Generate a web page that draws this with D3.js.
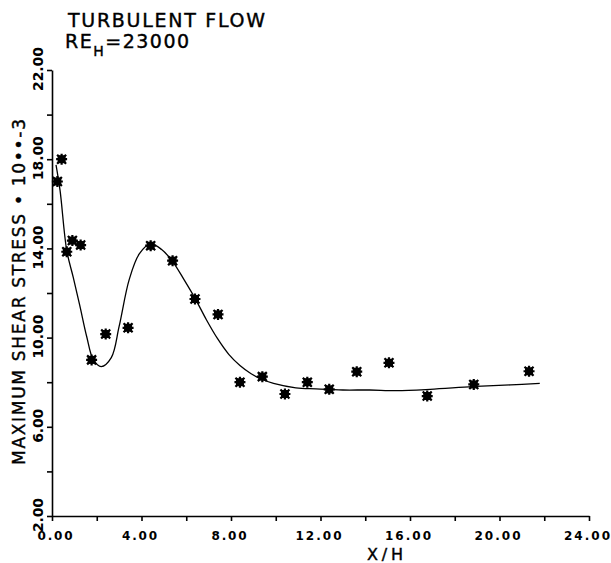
<!DOCTYPE html>
<html>
<head>
<meta charset="utf-8">
<script src="https://cdn.jsdelivr.net/npm/d3@7"></script>
<style>
  body { margin: 0; background: #fff; }
  svg text { font-family: "DejaVu Sans", sans-serif; fill: #000; }
</style>
</head>
<body>
<svg id="chart"></svg>
<script>
// measured points, x/h and max shear stress (x 1e-3)
var xh     = [0.24, 0.43, 0.66, 0.91, 1.28, 1.77, 2.40, 3.40, 4.41, 5.39, 6.39, 7.42,
              8.40, 9.40, 10.41, 11.41, 12.39, 13.62, 15.06, 16.77, 18.85, 21.32];
var stress = [17.0, 18.0, 13.85, 14.35, 14.15, 9.0, 10.16, 10.44, 14.12, 13.45, 11.73, 11.04,
              8.0, 8.25, 7.47, 8.0, 7.68, 8.47, 8.87, 7.38, 7.9, 8.49];

// fitted curve
var fitX = [0.18, 0.36, 0.66, 0.95, 1.25, 1.55, 1.85, 2.2, 2.65, 3.0, 3.45, 3.9, 4.4, 4.9,
            5.4, 5.9, 6.4, 6.9, 7.4, 7.9, 8.4, 8.9, 9.4, 9.9, 10.9, 11.8, 13.0, 14.2, 15.4,
            16.9, 18.8, 20.5, 21.8];
var fitY = [17.75, 16.6, 13.9, 12.7, 11.4, 10.05, 9.0, 8.7, 9.1, 10.5, 12.6, 13.75, 14.2, 13.95,
            13.4, 12.6, 11.75, 10.8, 9.95, 9.25, 8.75, 8.38, 8.12, 7.95, 7.75, 7.7, 7.65, 7.65, 7.62,
            7.68, 7.8, 7.88, 7.95];

var xTicks = [0, 4, 8, 12, 16, 20, 24];
var yTicks = [2, 6, 10, 14, 18, 22];

var width = 611,
    height = 563;

var svg = d3.select('#chart')
  .attr('width', width)
  .attr('height', height);

var x = d3.scaleLinear().domain([0, 24]).range([52, 589]);
var y = d3.scaleLinear().domain([2, 22]).range([516, 70]);

// axes: minor ticks every 2, labels every 4
var xAxis = d3.axisBottom(x)
  .tickValues(d3.range(0, 25, 2))
  .tickSize(5)
  .tickSizeOuter(0)
  .tickFormat('');
var yAxis = d3.axisLeft(y)
  .tickValues(d3.range(2, 23, 2))
  .tickSize(5)
  .tickSizeOuter(0)
  .tickFormat('');

svg.append('g')
  .attr('transform', 'translate(0,516)')
  .call(xAxis)
  .call(function (g) {
    g.selectAll('line, path').attr('stroke', '#000').attr('stroke-width', 1.6);
  });

svg.append('g')
  .attr('transform', 'translate(52,0)')
  .call(yAxis)
  .call(function (g) {
    g.selectAll('line, path').attr('stroke', '#000').attr('stroke-width', 1.6);
  });

// tick labels
svg.selectAll('.xlab')
  .data(xTicks)
  .enter().append('text')
    .attr('class', 'xlab')
    .attr('x', function (d) { return x(d) + (d === 0 ? 3 : -2); })
    .attr('y', 540)
    .attr('text-anchor', 'middle')
    .attr('font-size', 12)
    .attr('font-weight', 'bold')
    .attr('textLength', function (d) { return d >= 10 ? 46 : 35; })
    .attr('lengthAdjust', 'spacing')
    .text(function (d) { return d.toFixed(2); });

svg.selectAll('.ylab')
  .data(yTicks)
  .enter().append('text')
    .attr('class', 'ylab')
    .attr('transform', function (d) { return 'translate(43,' + (y(d) - 1) + ') rotate(-90)'; })
    .attr('text-anchor', 'middle')
    .attr('font-size', 14)
    .attr('font-weight', 'bold')
    .attr('textLength', function (d) { return d >= 10 ? 44 : 34; })
    .attr('lengthAdjust', 'spacing')
    .text(function (d) { return d.toFixed(2); });

// axis titles
svg.append('text')
  .attr('x', 385)
  .attr('y', 560)
  .attr('text-anchor', 'middle')
  .attr('font-size', 16)
  .attr('stroke', '#000')
  .attr('stroke-width', 0.4)
  .attr('textLength', 36)
  .attr('lengthAdjust', 'spacing')
  .text('X/H');

svg.append('text')
  .attr('transform', 'translate(25,292) rotate(-90)')
  .attr('text-anchor', 'middle')
  .attr('font-size', 17)
  .attr('stroke', '#000')
  .attr('stroke-width', 0.4)
  .attr('textLength', 346)
  .attr('lengthAdjust', 'spacing')
  .text('MAXIMUM SHEAR STRESS \u2022 10\u2022\u2022-3');

// chart title
svg.append('text')
  .attr('x', 68)
  .attr('y', 27)
  .attr('font-size', 19)
  .attr('stroke', '#000')
  .attr('stroke-width', 0.4)
  .attr('textLength', 197)
  .attr('lengthAdjust', 'spacing')
  .text('TURBULENT FLOW');

var re = svg.append('text')
  .attr('x', 65)
  .attr('y', 48)
  .attr('font-size', 19)
  .attr('letter-spacing', 1.5)
  .attr('stroke', '#000')
  .attr('stroke-width', 0.4);
re.append('tspan').text('RE');
re.append('tspan').attr('font-size', 14).attr('dy', 8).text('H');
re.append('tspan').attr('dy', -8).text('=23000');

// fitted curve
var line = d3.line()
  .x(function (d) { return x(d[0]); })
  .y(function (d) { return y(d[1]); })
  .curve(d3.curveCatmullRom.alpha(0.5));

svg.append('path')
  .datum(d3.zip(fitX, fitY))
  .attr('d', line)
  .attr('fill', 'none')
  .attr('stroke', '#000')
  .attr('stroke-width', 1.3);

// asterisk markers
var marks = svg.selectAll('.mark')
  .data(d3.zip(xh, stress))
  .enter().append('g')
    .attr('class', 'mark')
    .attr('transform', function (d) { return 'translate(' + x(d[0]) + ',' + y(d[1]) + ')'; });

marks.append('rect')
  .attr('x', -4).attr('y', -4)
  .attr('width', 8).attr('height', 8)
  .attr('fill', '#000');

marks.append('path')
  .attr('d', 'M-5.5,0H5.5M0,-5.5V5.5M-4.5,-4.5L4.5,4.5M-4.5,4.5L4.5,-4.5')
  .attr('stroke', '#000')
  .attr('stroke-width', 2.2);
</script>
</body>
</html>
